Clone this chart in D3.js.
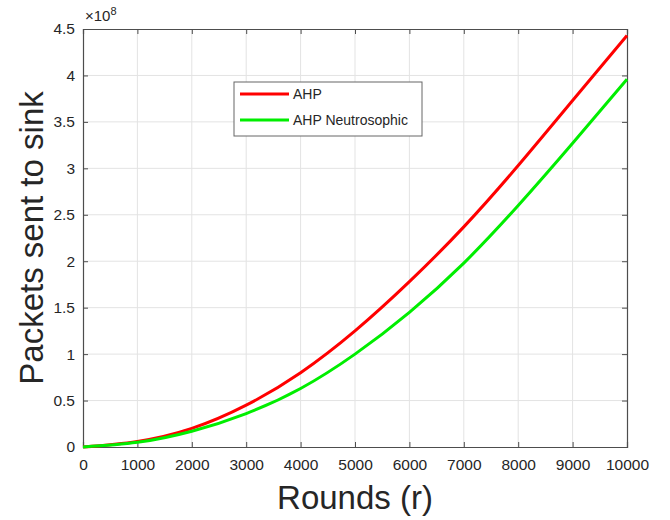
<!DOCTYPE html>
<html>
<head>
<meta charset="utf-8">
<script src="https://cdn.jsdelivr.net/npm/d3@7/dist/d3.min.js"></script>
<style>
  html, body { margin: 0; padding: 0; background: #fff; }
  svg { display: block; font-family: "Liberation Sans", Arial, Helvetica, sans-serif; }
</style>
</head>
<body>
<svg id="chart" width="670" height="520"></svg>
<script>
// Rounds (x) and packets delivered to the sink (in units of 1e8)
const rounds = [0, 1000, 2000, 3000, 4000, 5000, 6000, 7000, 8000, 9000, 10000];
const ahp = [0, 0.06, 0.20, 0.45, 0.80, 1.25, 1.78, 2.37, 3.03, 3.73, 4.43];
const ahpNeutrosophic = [0, 0.05, 0.17, 0.36, 0.63, 1.00, 1.45, 1.98, 2.60, 3.27, 3.96];

const seriesNames = ["AHP", "AHP Neutrosophic"];
const seriesColors = ["#ff0000", "#00ee00"];
const xTicks = [0, 1000, 2000, 3000, 4000, 5000, 6000, 7000, 8000, 9000, 10000];
const yTicks = [0, 0.5, 1, 1.5, 2, 2.5, 3, 3.5, 4, 4.5];

const svg = d3.select("#chart");
const margin = { left: 83, right: 43, top: 29, bottom: 73 };
const W = 670, H = 520;
const plotW = W - margin.left - margin.right;
const plotH = H - margin.top - margin.bottom;

const x = d3.scaleLinear().domain([0, 10000]).range([0, plotW]);
const y = d3.scaleLinear().domain([0, 4.5]).range([plotH, 0]);

const g = svg.append("g").attr("transform", `translate(${margin.left},${margin.top})`);

// grid
g.append("g").selectAll("line").data(xTicks.slice(1, -1)).join("line")
  .attr("x1", d => x(d)).attr("x2", d => x(d))
  .attr("y1", 0).attr("y2", plotH)
  .attr("stroke", "#e3e3e3").attr("stroke-width", 1);
g.append("g").selectAll("line").data(yTicks.slice(1, -1)).join("line")
  .attr("y1", d => y(d)).attr("y2", d => y(d))
  .attr("x1", 0).attr("x2", plotW)
  .attr("stroke", "#e3e3e3").attr("stroke-width", 1);

const axisColor = "#4d4d4d";
const tickFmt = d => d3.format("~g")(d);

// axes with inward ticks
const xAxis = g.append("g").attr("transform", `translate(0,${plotH})`)
  .call(d3.axisBottom(x).tickValues(xTicks).tickSize(-5).tickPadding(12).tickFormat(d3.format("d")));
const xTop = g.append("g")
  .call(d3.axisTop(x).tickValues(xTicks).tickSize(-5).tickFormat(""));
const yAxis = g.append("g")
  .call(d3.axisLeft(y).tickValues(yTicks).tickSize(-5).tickPadding(8).tickFormat(tickFmt));
const yRight = g.append("g").attr("transform", `translate(${plotW},0)`)
  .call(d3.axisRight(y).tickValues(yTicks).tickSize(-5).tickFormat(""));

[xAxis, xTop, yAxis, yRight].forEach(a => {
  a.select(".domain").attr("stroke", axisColor).attr("stroke-width", 1.2);
  a.selectAll(".tick line").attr("stroke", axisColor);
  a.selectAll(".tick text").attr("fill", "#262626").attr("font-size", 15.5);
});

// curves
const line = d3.line()
  .x(d => x(d[0]))
  .y(d => y(d[1]))
  .curve(d3.curveNatural);

[ahp, ahpNeutrosophic].forEach((vals, i) => {
  g.append("path")
    .datum(rounds.map((r, j) => [r, vals[j]]))
    .attr("fill", "none")
    .attr("stroke", seriesColors[i])
    .attr("stroke-width", 3)
    .attr("d", line);
});

// exponent label
const expo = svg.append("text")
  .attr("x", margin.left + 2).attr("y", margin.top - 8)
  .attr("font-size", 15).attr("fill", "#262626");
expo.append("tspan").text("\u00d710");
expo.append("tspan").attr("dy", -6).attr("font-size", 11).text("8");

// axis titles
svg.append("text")
  .attr("x", margin.left + plotW / 2).attr("y", 509)
  .attr("text-anchor", "middle").attr("font-size", 33).attr("fill", "#262626")
  .text("Rounds (r)");
svg.append("text")
  .attr("transform", `translate(43,${margin.top + plotH / 2}) rotate(-90)`)
  .attr("text-anchor", "middle").attr("font-size", 33).attr("fill", "#262626")
  .text("Packets sent to sink");

// legend
const lg = svg.append("g").attr("transform", "translate(234,82)");
lg.append("rect").attr("width", 188).attr("height", 54)
  .attr("fill", "#fff").attr("stroke", "#666").attr("stroke-width", 1);
seriesNames.forEach((name, i) => {
  const yy = 12 + i * 26;
  lg.append("line").attr("x1", 6).attr("x2", 55).attr("y1", yy).attr("y2", yy)
    .attr("stroke", seriesColors[i]).attr("stroke-width", 3);
  lg.append("text").attr("x", 59).attr("y", yy + 5)
    .attr("font-size", 14).attr("fill", "#262626").text(name);
});
</script>
</body>
</html>
